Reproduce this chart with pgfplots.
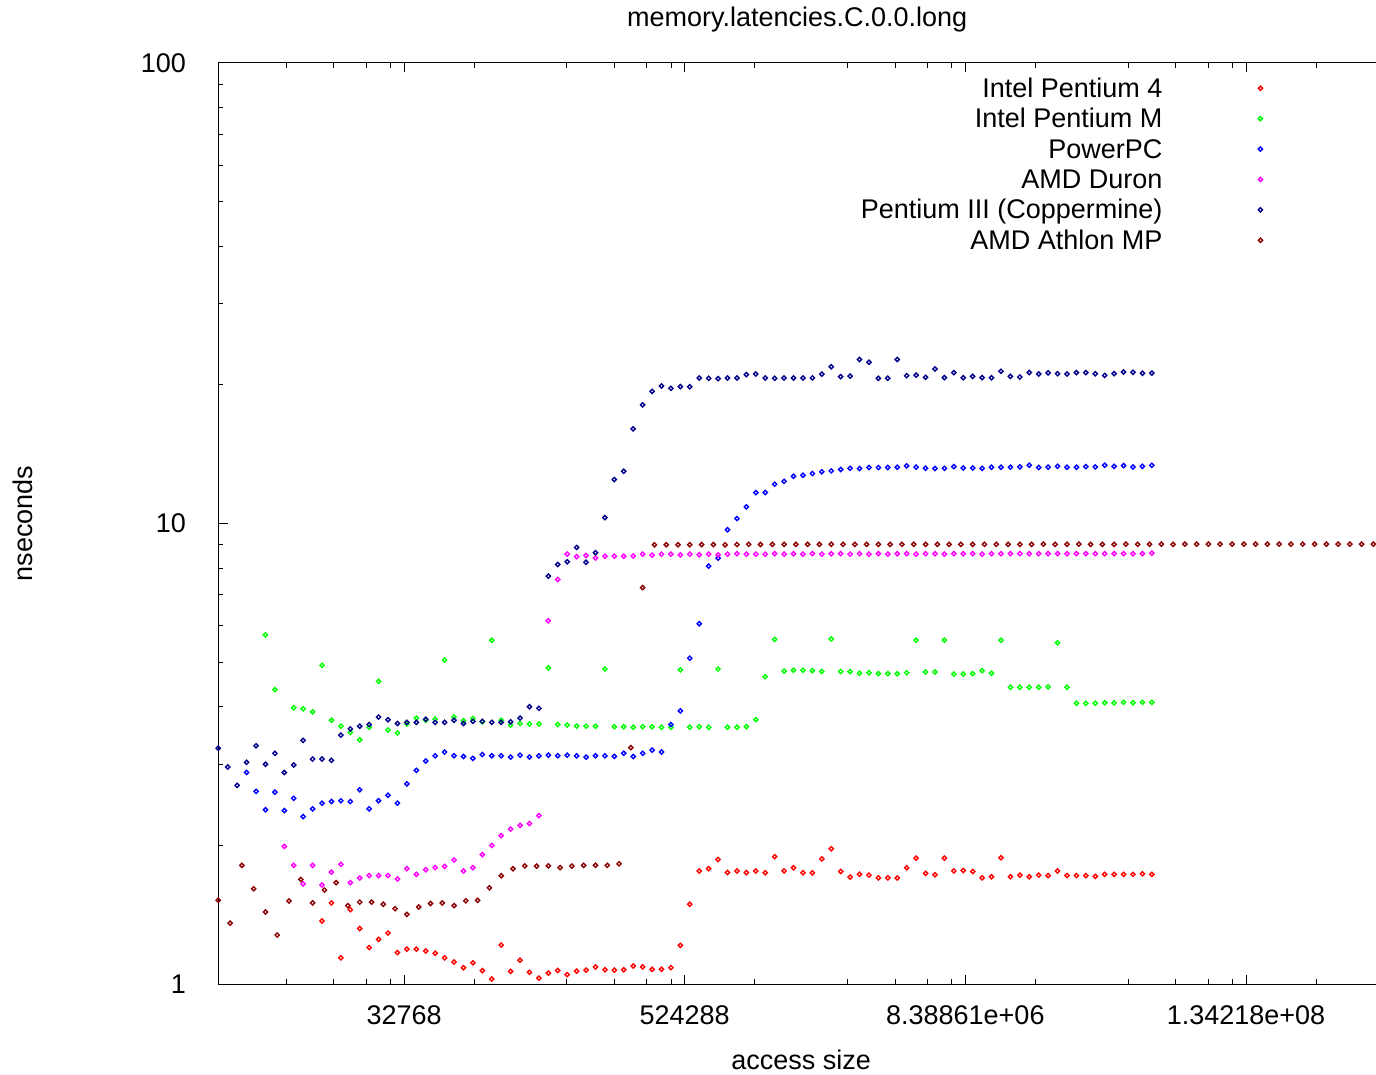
\documentclass[border=0pt]{standalone}
\usepackage{fontspec}
\setmainfont{Liberation Sans}
\usepackage{pgfplots}
\pgfplotsset{compat=1.18}
\definecolor{gpred}{RGB}{255,0,0}
\definecolor{gpgreen}{RGB}{0,255,0}
\definecolor{gpblue}{RGB}{0,0,255}
\definecolor{gpmagenta}{RGB}{255,0,255}
\definecolor{gpnavy}{RGB}{0,0,139}
\definecolor{gpdarkred}{RGB}{139,0,0}
\newcommand{\gpfont}{\fontsize{13.5bp}{16bp}\selectfont}
\pgfplotsset{
  gp/.style={only marks, mark=square, mark size=0.75bp,
    mark options={rotate=45, line width=0.7bp, solid},
    legend image code/.code={\path[draw=none,fill=none] (0bp,0bp) -- (49bp,0bp); \path[draw=none,fill=none,##1] plot coordinates {(49bp,1.5bp)};}},
}
\begin{document}
\begin{tikzpicture}
\useasboundingbox (-109.15bp,-45.5bp) rectangle (578.85bp,492bp);
\begin{axis}[
  at={(0,0)}, anchor=south west,
  scale only axis, width=578.85bp, height=460.5bp,
  xmin=0, xmax=122.77, ymin=1, ymax=100, ymode=log,
  axis x line*=box, axis y line*=left,
  axis line style={line width=0.5bp, black},
  every tick/.style={line width=0.5bp, black},
  tick align=inside,
  major tick length=4.7bp, minor tick length=2.3bp,
  xtick={19.70,49.46,79.22,108.99},
  xticklabels={32768,524288,8.38861e+06,1.34218e+08},
  minor xtick={7.21,12.26,15.68,18.27,27.14,36.97,42.02,45.44,48.03,56.90,66.73,71.78,75.20,77.79,86.67,96.50,101.55,104.97,107.56,116.43},
  ytick={1,10,100}, yticklabels={1,10,100},
  minor ytick={2,3,4,5,6,7,8,9,20,30,40,50,60,70,80,90},
  tick label style={font=\gpfont},
  xticklabel style={anchor=north, inner sep=0pt, yshift=-10.5bp},
  yticklabel style={anchor=east, inner sep=0pt, xshift=-16bp},
  title={memory.latencies.C.0.0.long},
  title style={font=\gpfont, at={(axis description cs:0.5,1)}, anchor=base, inner sep=0pt, yshift=12.5bp},
  xlabel={access size},
  xlabel style={font=\gpfont, at={(axis description cs:0.5035,0)}, anchor=base, inner sep=0pt, yshift=-42.5bp},
  ylabel={nseconds},
  ylabel style={font=\gpfont, at={(axis description cs:-0.1605,0.5)}, anchor=base, inner sep=0pt, rotate=0},
  legend plot pos=right, legend cell align=right,
  legend style={at={(axis description cs:0.902,0.9858)}, anchor=north east, draw=none, fill=none,
    font=\gpfont, row sep=0pt, column sep=0pt, inner sep=0pt, outer sep=0pt,
    nodes={inner sep=0pt, text height=10.6bp, text depth=4.6bp}},
]
\addplot[gp, color=gpred] table {
11 1.37
12 1.50
13 1.14
14 1.45
15 1.32
16 1.20
17 1.25
18 1.29
19 1.17
20 1.19
21 1.19
22 1.18
23 1.166
24 1.14
25 1.116
26 1.085
27 1.112
28 1.069
29 1.025
30 1.215
31 1.065
32 1.126
33 1.06
34 1.03
35 1.056
36 1.07
37 1.048
38 1.067
39 1.072
40 1.089
41 1.074
42 1.072
43 1.074
44 1.094
45 1.089
46 1.076
47 1.076
48 1.085
49 1.213
50 1.49
51 1.76
52 1.78
53 1.864
54 1.746
55 1.76
56 1.746
57 1.76
58 1.744
59 1.89
60 1.76
61 1.788
62 1.744
63 1.744
64 1.87
65 1.966
66 1.755
67 1.707
68 1.732
69 1.724
70 1.70
71 1.70
72 1.70
73 1.788
74 1.876
75 1.739
76 1.727
77 1.876
78 1.76
79 1.764
80 1.755
81 1.70
82 1.71
83 1.88
84 1.71
85 1.724
86 1.71
87 1.724
88 1.72
89 1.76
90 1.72
91 1.72
92 1.72
93 1.713
94 1.73
95 1.73
96 1.73
97 1.73
98 1.735
99 1.73
};
\addlegendentry{Intel Pentium 4}
\addplot[gp, color=gpgreen] table {
5 5.73
6 4.36
8 3.98
9 3.96
10 3.90
11 4.92
12 3.74
13 3.63
14 3.52
15 3.39
16 3.61
17 4.54
18 3.56
19 3.51
20 3.67
21 3.78
22 3.74
23 3.76
24 5.05
25 3.80
26 3.73
27 3.77
28 3.71
29 5.58
30 3.74
31 3.65
32 3.68
33 3.67
34 3.67
35 4.86
36 3.66
37 3.65
38 3.63
39 3.63
40 3.63
41 4.83
42 3.62
43 3.62
44 3.61
45 3.62
46 3.62
47 3.61
48 3.61
49 4.81
50 3.61
51 3.62
52 3.61
53 4.83
54 3.61
55 3.61
56 3.62
57 3.75
58 4.65
59 5.60
60 4.78
61 4.80
62 4.80
63 4.79
64 4.77
65 5.61
66 4.77
67 4.77
68 4.73
69 4.74
70 4.72
71 4.72
72 4.72
73 4.74
74 5.58
75 4.76
76 4.76
77 5.58
78 4.71
79 4.71
80 4.72
81 4.79
82 4.73
83 5.58
84 4.41
85 4.41
86 4.41
87 4.41
88 4.42
89 5.51
90 4.41
91 4.07
92 4.07
93 4.07
94 4.08
95 4.08
96 4.09
97 4.08
98 4.09
99 4.09
};
\addlegendentry{Intel Pentium M}
\addplot[gp, color=gpblue] table {
3 2.88
4 2.62
5 2.39
6 2.61
7 2.38
8 2.53
9 2.31
10 2.40
11 2.47
12 2.49
13 2.50
14 2.49
15 2.64
16 2.40
17 2.50
18 2.57
19 2.47
20 2.72
21 2.91
22 3.05
23 3.13
24 3.19
25 3.13
26 3.12
27 3.09
28 3.15
29 3.13
30 3.13
31 3.11
32 3.14
33 3.11
34 3.13
35 3.14
36 3.13
37 3.14
38 3.13
39 3.11
40 3.13
41 3.13
42 3.12
43 3.17
44 3.12
45 3.17
46 3.22
47 3.19
48 3.66
49 3.92
50 5.10
51 6.06
52 8.08
53 8.41
54 9.69
55 10.25
56 10.87
57 11.67
58 11.68
59 12.17
60 12.35
61 12.66
62 12.73
63 12.84
64 12.95
65 13.01
66 13.10
67 13.18
68 13.16
69 13.23
70 13.23
71 13.23
72 13.25
73 13.34
74 13.25
75 13.18
76 13.16
77 13.18
78 13.29
79 13.20
80 13.20
81 13.18
82 13.25
83 13.25
84 13.25
85 13.27
86 13.38
87 13.23
88 13.25
89 13.31
90 13.25
91 13.25
92 13.29
93 13.27
94 13.38
95 13.31
96 13.36
97 13.27
98 13.31
99 13.38
};
\addlegendentry{PowerPC}
\addplot[gp, color=gpmagenta] table {
7 1.99
8 1.81
9 1.65
10 1.81
11 1.64
12 1.75
13 1.82
14 1.66
15 1.70
16 1.72
17 1.72
18 1.72
19 1.69
20 1.78
21 1.73
22 1.77
23 1.79
24 1.80
25 1.86
26 1.76
27 1.79
28 1.91
29 2.00
30 2.10
31 2.17
32 2.21
33 2.23
34 2.32
35 6.15
36 7.56
37 8.58
38 8.47
39 8.52
40 8.42
41 8.49
42 8.49
43 8.49
44 8.50
45 8.58
46 8.54
47 8.58
48 8.58
49 8.55
50 8.58
51 8.55
52 8.58
53 8.55
54 8.58
55 8.60
56 8.58
57 8.58
58 8.58
59 8.60
60 8.58
61 8.60
62 8.58
63 8.60
64 8.58
65 8.60
66 8.60
67 8.58
68 8.60
69 8.58
70 8.60
71 8.58
72 8.60
73 8.60
74 8.58
75 8.60
76 8.60
77 8.58
78 8.60
79 8.60
80 8.60
81 8.58
82 8.60
83 8.60
84 8.60
85 8.60
86 8.60
87 8.60
88 8.60
89 8.60
90 8.60
91 8.60
92 8.60
93 8.60
94 8.60
95 8.60
96 8.60
97 8.60
98 8.60
99 8.62
};
\addlegendentry{AMD Duron}
\addplot[gp, color=gpnavy] table {
0 3.25
1 2.96
2 2.70
3 3.03
4 3.29
5 3.00
6 3.17
7 2.88
8 2.99
9 3.38
10 3.08
11 3.08
12 3.06
13 3.47
14 3.58
15 3.63
16 3.66
17 3.80
18 3.75
19 3.68
20 3.70
21 3.70
22 3.76
23 3.70
24 3.70
25 3.74
26 3.68
27 3.72
28 3.72
29 3.70
30 3.70
31 3.71
32 3.78
33 4.00
34 3.97
35 7.69
36 8.15
37 8.26
38 8.87
39 8.24
40 8.64
41 10.3
42 12.46
43 12.99
44 16.05
45 18.1
46 19.36
47 19.89
48 19.66
49 19.82
50 19.82
51 20.7
52 20.67
53 20.63
54 20.7
55 20.7
56 21.05
57 21.12
58 20.7
59 20.67
60 20.7
61 20.7
62 20.7
63 20.7
64 21.1
65 21.9
66 20.84
67 20.9
68 22.7
69 22.4
70 20.67
71 20.67
72 22.7
73 20.94
74 21.0
75 20.77
76 21.65
77 20.73
78 21.27
79 20.73
80 20.87
81 20.73
82 20.73
83 21.4
84 20.87
85 20.8
86 21.27
87 21.12
88 21.24
89 21.15
90 21.12
91 21.27
92 21.27
93 21.15
94 20.97
95 21.15
96 21.33
97 21.3
98 21.2
99 21.2
};
\addlegendentry{Pentium III (Coppermine)}
\addplot[gp, color=gpdarkred] table {
0 1.52
1.25 1.356
2.5 1.81
3.75 1.61
5 1.433
6.25 1.277
7.5 1.514
8.75 1.687
10 1.50
11.25 1.60
12.5 1.66
13.75 1.48
15 1.506
16.25 1.506
17.5 1.49
18.75 1.457
20 1.416
21.25 1.47
22.5 1.496
23.75 1.50
25 1.48
26.25 1.516
27.5 1.52
28.75 1.618
30 1.718
31.25 1.78
32.5 1.805
33.75 1.803
35 1.805
36.25 1.79
37.5 1.803
38.75 1.81
40 1.81
41.25 1.81
42.5 1.824
43.75 3.26
45 7.26
46.25 8.99
47.5 8.99
48.75 8.99
50 8.99
51.25 9.00
52.5 9.00
53.75 8.99
55 9.00
56.25 9.01
57.5 9.00
58.75 9.01
60 9.01
61.25 9.01
62.5 9.01
63.75 9.01
65 9.01
66.25 9.01
67.5 9.01
68.75 9.01
70 9.01
71.25 9.01
72.5 9.01
73.75 9.01
75 9.01
76.25 9.01
77.5 9.01
78.75 9.01
80 9.01
81.25 9.01
82.5 9.01
83.75 9.01
85 9.01
86.25 9.01
87.5 9.02
88.75 9.01
90 9.01
91.25 9.02
92.5 9.01
93.75 9.01
95 9.01
96.25 9.02
97.5 9.01
98.75 9.01
100 9.02
101.25 9.01
102.5 9.02
103.75 9.02
105 9.02
106.25 9.02
107.5 9.02
108.75 9.02
110 9.02
111.25 9.02
112.5 9.02
113.75 9.02
115 9.02
116.25 9.02
117.5 9.02
118.75 9.02
120 9.02
121.25 9.02
122.5 9.02
};
\addlegendentry{AMD Athlon MP}
\end{axis}
\end{tikzpicture}
\end{document}
